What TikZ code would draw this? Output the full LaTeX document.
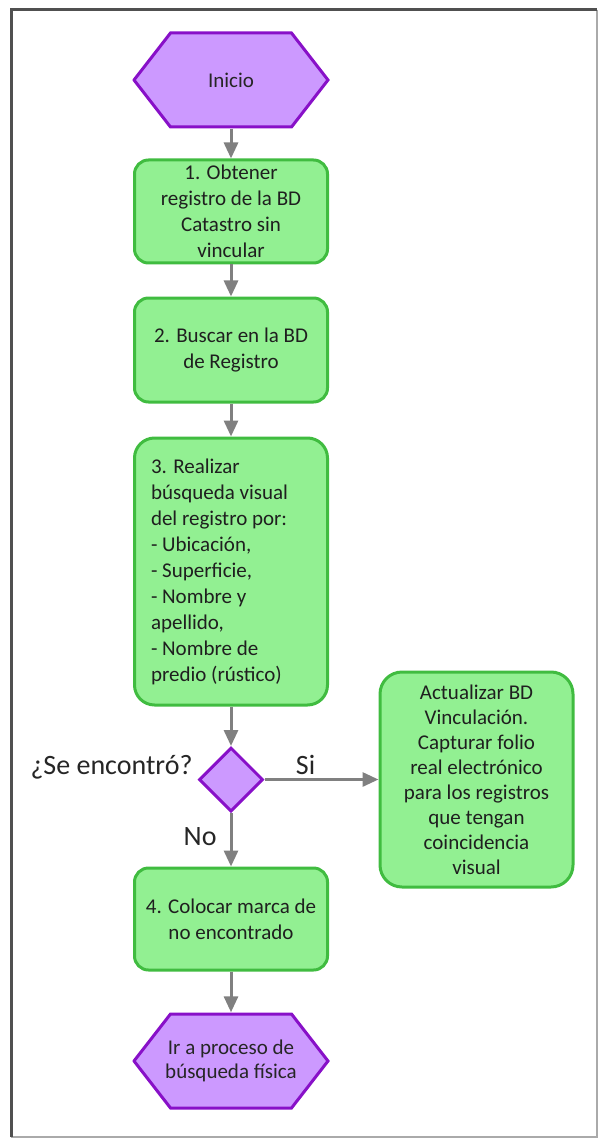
\documentclass[tikz,border=0pt]{standalone}
\usepackage{fontspec}
\setmainfont{Carlito}
\usetikzlibrary{shapes.geometric, arrows.meta, positioning}
\definecolor{boxfill}{RGB}{146,240,146}
\definecolor{boxline}{RGB}{64,188,64}
\definecolor{hexfill}{RGB}{204,153,255}
\definecolor{hexline}{RGB}{136,16,200}
\definecolor{flowgray}{RGB}{128,128,128}
\definecolor{framedark}{RGB}{80,80,80}
\definecolor{framelight}{RGB}{170,170,170}
\tikzstyle{every node}=[font=\fontsize{21}{26}\selectfont]
\tikzstyle{block}=[draw=boxline,fill=boxfill,line width=3pt,rectangle,rounded corners=14pt,minimum width=193pt,inner sep=2pt,align=center,text=black!88]
\tikzstyle{hexa}=[rectangle,fill=white,minimum width=197pt,minimum height=97pt,inner sep=0pt,align=center,text=black!85,
  path picture={\filldraw[fill=hexfill,draw=hexline,line width=3pt]
    ([shift={(38pt,-1.5pt)}]path picture bounding box.north west) --
    ([shift={(-38pt,-1.5pt)}]path picture bounding box.north east) --
    ([xshift=-1.5pt]path picture bounding box.east) --
    ([shift={(-38pt,1.5pt)}]path picture bounding box.south east) --
    ([shift={(38pt,1.5pt)}]path picture bounding box.south west) --
    ([xshift=1.5pt]path picture bounding box.west) -- cycle;}]
\tikzstyle{decision}=[diamond,draw=hexline,fill=hexfill,line width=3pt,minimum size=64pt,inner sep=0pt]
\tikzstyle{lbl}=[font=\fontsize{28}{34}\selectfont,inner sep=3pt,text=black!85]
\tikzstyle{flow}=[->,draw=flowgray,line width=3pt]

\begin{document}
\begin{tikzpicture}[>={Triangle[length=16pt,width=14pt]}]
    \useasboundingbox (0,0) rectangle (601pt,-1139pt);
    % frame
    \draw[framelight, line width=2pt] (597pt,-10pt) -- (597pt,-1137pt) -- (11pt,-1137pt);
    \draw[framedark, line width=3pt] (11pt,-1137pt) -- (11pt,-10pt) -- (597pt,-10pt);

    \node[hexa] (inicio) at (231pt,-80pt) {Inicio};
    \node[block, below of=inicio, node distance=131.5pt, minimum height=103pt] (obtener) {1. Obtener\\registro de la BD\\Catastro sin\\vincular};
    \node[block, below of=obtener, node distance=138.5pt, minimum height=104pt] (buscar) {2. Buscar en la BD\\de Registro};
    \node[block, below of=buscar, node distance=221.5pt, minimum height=267pt, text width=160pt, align=flush left, rounded corners=20pt] (visual) {3. Realizar\\búsqueda visual\\del registro por:\\- Ubicación,\\- Superficie,\\- Nombre y\\apellido,\\- Nombre de\\predio (rústico)};
    \node[decision, below of=visual, node distance=208pt] (encontro) {};
    \node[lbl, left of=encontro, node distance=119.5pt, yshift=12.5pt] (pregunta) {¿Se encontró?};
    \node[block, right of=encontro, node distance=245.5pt, minimum height=215pt, rounded corners=22pt, font=\fontsize{21}{25}\selectfont] (actualizar) {Actualizar BD\\Vinculación.\\Capturar folio\\real electrónico\\para los registros\\que tengan\\coincidencia\\visual};
    \node[block, below of=encontro, node distance=139.5pt, minimum height=102pt] (colocar) {4. Colocar marca de\\no encontrado};
    \node[hexa, below of=colocar, node distance=142pt, font=\fontsize{21}{24}\selectfont] (fisica) {Ir a proceso de\\búsqueda física};

    \draw[flow] (inicio) -- (obtener);
    \draw[flow] (obtener) -- (buscar);
    \draw[flow] (buscar) -- (visual);
    \draw[flow] (visual) -- (encontro);
    \draw[flow] (encontro) -- node[lbl, above, pos=0.36] (si) {Si} (actualizar);
    \draw[flow] (encontro) -- node[lbl, left=10pt, pos=0.45] (no) {No} (colocar);
    \draw[flow] (colocar) -- (fisica);
\end{tikzpicture}
\end{document}
